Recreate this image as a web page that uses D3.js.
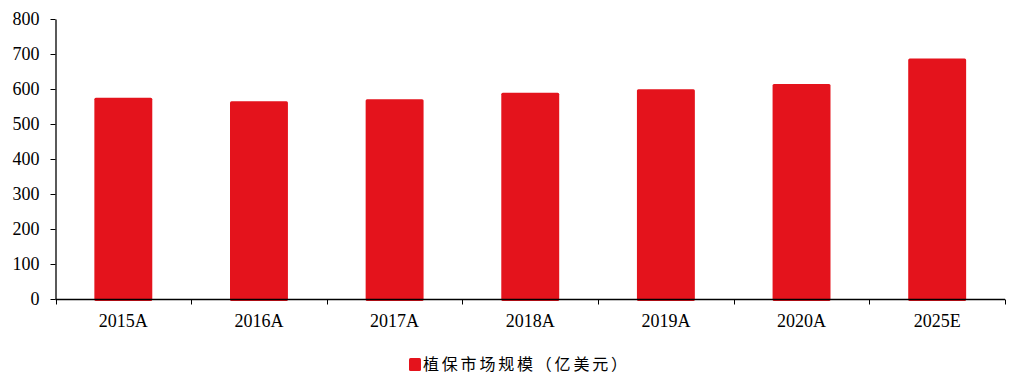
<!DOCTYPE html>
<html>
<head>
<meta charset="utf-8">
<script src="https://cdn.jsdelivr.net/npm/d3@7"></script>
<style>
  html, body { margin: 0; padding: 0; background: #fff; }
  svg { display: block; }
</style>
</head>
<body>
<svg id="chart" width="1012" height="376"></svg>
<script>
// Crop-protection market size, 100 million USD
const categories = ["2015A", "2016A", "2017A", "2018A", "2019A", "2020A", "2025E"];
const marketSize = [575, 565, 571, 589, 599, 614, 687];
const yTicks = [0, 100, 200, 300, 400, 500, 600, 700, 800];
const seriesName = "植保市场规模（亿美元）";

(function draw() {
  const svg = d3.select("#chart");
  const plotLeft = 55.5, plotRight = 1005, plotTop = 19, plotBottom = 299;
  const barColor = "#e4131c";
  const serif = "'Liberation Serif', 'Times New Roman', serif";

  const x = d3.scaleBand().domain(categories).range([plotLeft, plotRight])
    .paddingInner(0.573).paddingOuter(0.2865);
  const y = d3.scaleLinear().domain([0, 800]).range([plotBottom, plotTop]);

  // bars
  svg.append("g").selectAll("rect")
    .data(categories.map((c, i) => ({ c, v: marketSize[i] })))
    .join("rect")
    .attr("x", d => x(d.c))
    .attr("y", d => y(d.v))
    .attr("width", x.bandwidth())
    .attr("height", d => y(0) - y(d.v) + 2)
    .attr("rx", 1.5)
    .attr("fill", barColor);

  // y axis
  const yAxis = svg.append("g")
    .attr("transform", `translate(${plotLeft},0)`)
    .call(d3.axisLeft(y).tickValues(yTicks).tickSize(5).tickPadding(11).tickSizeOuter(0));

  yAxis.select(".domain").attr("stroke", "#000").attr("stroke-width", 1.3);
  yAxis.selectAll(".tick line").attr("stroke", "#000");
  yAxis.selectAll(".tick text")
    .attr("font-family", serif)
    .attr("font-size", 18)
    .attr("fill", "#000");

  // x axis with ticks on category boundaries
  const xAxis = svg.append("g")
    .attr("transform", `translate(0,${plotBottom + 0.5})`);
  xAxis.append("line")
    .attr("x1", plotLeft).attr("x2", plotRight)
    .attr("stroke", "#000").attr("stroke-width", 1.3);
  const step = x.step();
  xAxis.selectAll("line.tick")
    .data(d3.range(categories.length + 1))
    .join("line")
    .attr("class", "tick")
    .attr("x1", i => Math.round(plotLeft + i * step) + 0.5)
    .attr("x2", i => Math.round(plotLeft + i * step) + 0.5)
    .attr("y1", 0).attr("y2", 5)
    .attr("stroke", "#000");
  xAxis.selectAll("text")
    .data(categories)
    .join("text")
    .attr("x", d => x(d) + x.bandwidth() / 2)
    .attr("y", 27)
    .attr("text-anchor", "middle")
    .attr("font-family", serif)
    .attr("font-size", 18)
    .attr("fill", "#000")
    .text(d => d);

  // legend
  const legend = svg.append("g").attr("transform", "translate(409,358)");
  legend.append("rect").attr("width", 12).attr("height", 13).attr("rx", 1.5).attr("fill", barColor);
  legend.append("text")
    .attr("x", 14).attr("y", 12)
    .attr("font-family", "'Noto Sans CJK SC', sans-serif")
    .attr("font-size", 16)
    .attr("letter-spacing", 2.8)
    .attr("fill", "#000")
    .text(seriesName);
})();
</script>
</body>
</html>
